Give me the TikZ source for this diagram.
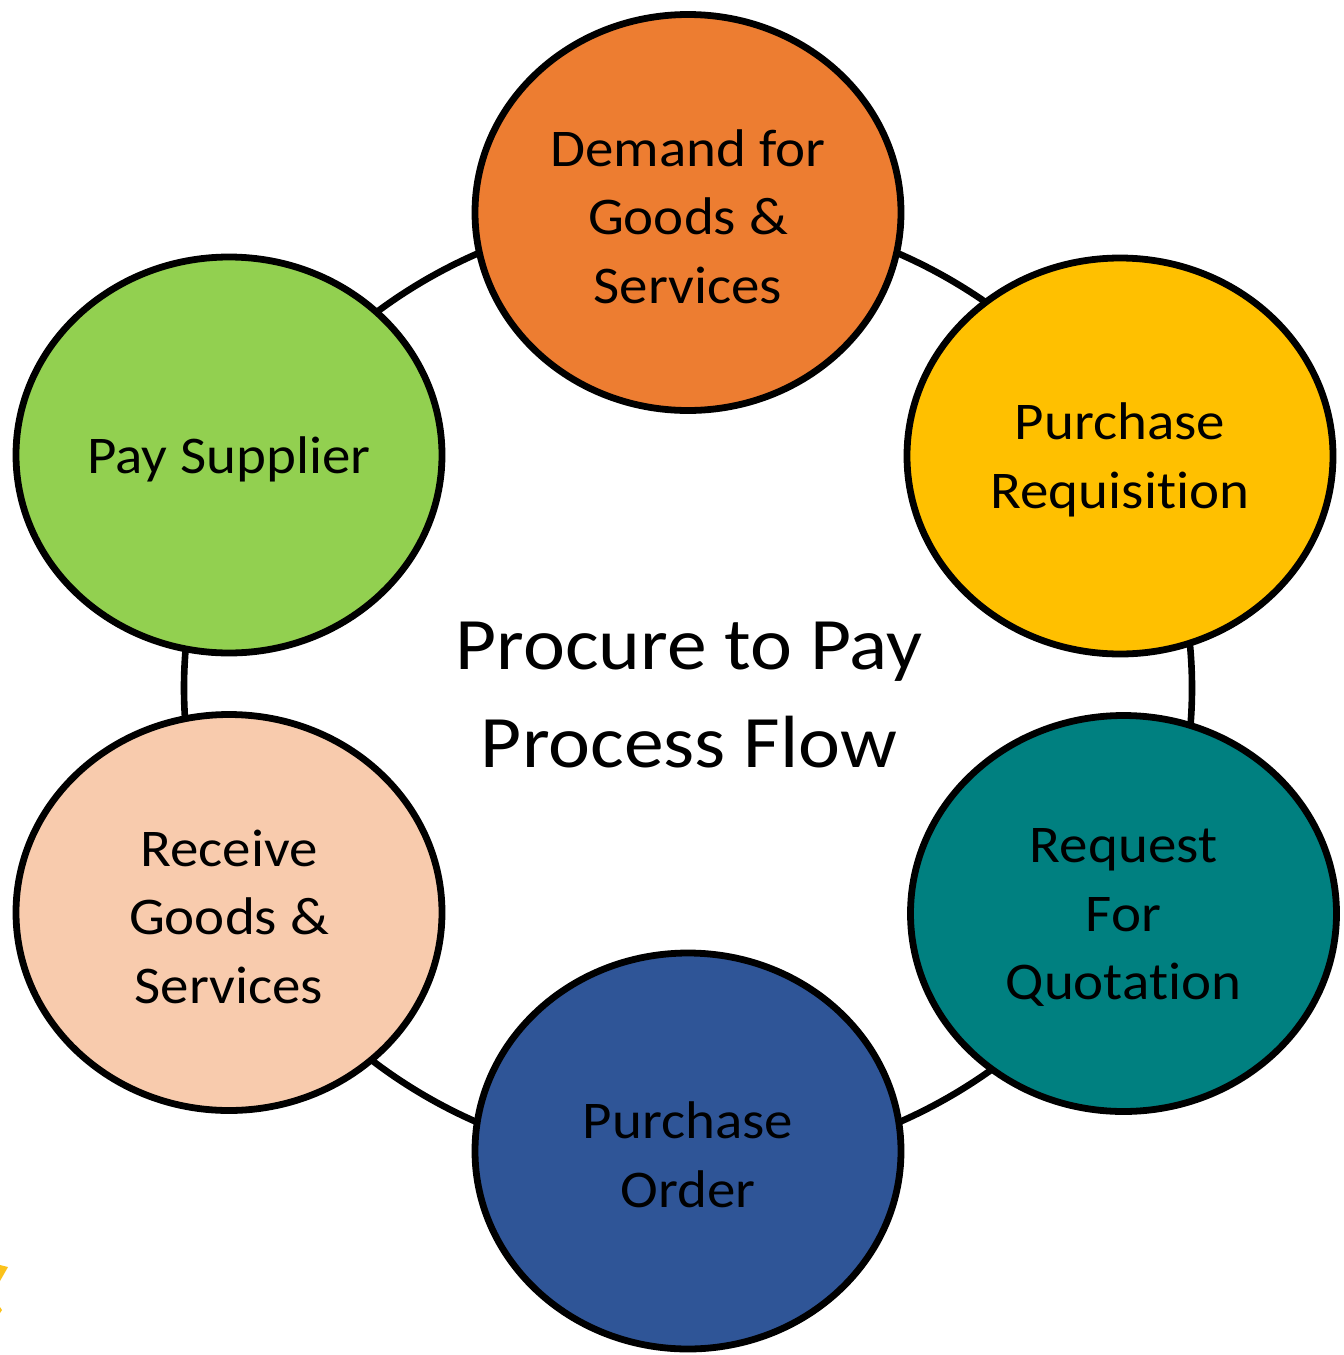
\documentclass[tikz,border=0pt]{standalone}
\usepackage{fontspec}
\setmainfont{Carlito}[FakeStretch=1.075, Ligatures={NoCommon,NoContextual}]
\usetikzlibrary{shapes.geometric}
\definecolor{cOrange}{HTML}{ED7D31}
\definecolor{cYellow}{HTML}{FFC000}
\definecolor{cTeal}{HTML}{008080}
\definecolor{cBlue}{HTML}{2F5597}
\definecolor{cPeach}{HTML}{F8CBAD}
\definecolor{cGreen}{HTML}{92D050}
\definecolor{cStar}{HTML}{FBC21B}
\begin{document}
\begin{tikzpicture}[x=0.5pt,y=-0.5pt,
  stage/.style={ellipse, draw=black, line width=3.4pt, minimum width=213pt,
    minimum height=198pt, inner sep=0pt},
  stagetext/.style={align=center, inner sep=0pt, yshift=-2pt,
    font=\fontsize{26.5pt}{34.25pt}\selectfont},
  ringstyle/.style={ellipse, draw=black, line width=3.3pt, inner sep=0pt,
    minimum width=504pt, minimum height=478pt},
  titlestyle/.style={align=center, inner sep=0pt,
    font=\fontsize{37pt}{49pt}\selectfont}]
\useasboundingbox (0,0) rectangle (1344,1355);
\fill[white] (0,0) rectangle (1344,1355);
\node[ringstyle] (ring) at (688,688) {};
\node[stage, fill=cOrange, label={[stagetext]center:Demand for\\Goods \&\\Services}] (demand) at (688,212.5) {};
\node[stage, fill=cYellow, label={[stagetext]center:Purchase\\Requisition}] (preq) at (1120,456) {};
\node[stage, fill=cTeal, label={[stagetext]center:Request\\For\\Quotation}] (rfq) at (1123.5,913.5) {};
\node[stage, fill=cBlue, label={[stagetext]center:Purchase\\Order}] (po) at (688,1151) {};
\node[stage, fill=cPeach, label={[stagetext]center:Receive\\Goods \&\\Services}] (recv) at (229,912.5) {};
\node[stage, fill=cGreen, label={[stagetext]center:Pay Supplier}] (pay) at (229,455) {};
\node[titlestyle] (title) at (689,695) {Procure to Pay\\Process Flow};
\fill[cStar] (0,1265) -- (8,1267) -- (0,1281) -- cycle;
\fill[cStar] (0,1307) -- (2,1310) -- (0,1313) -- cycle;
\end{tikzpicture}
\end{document}
